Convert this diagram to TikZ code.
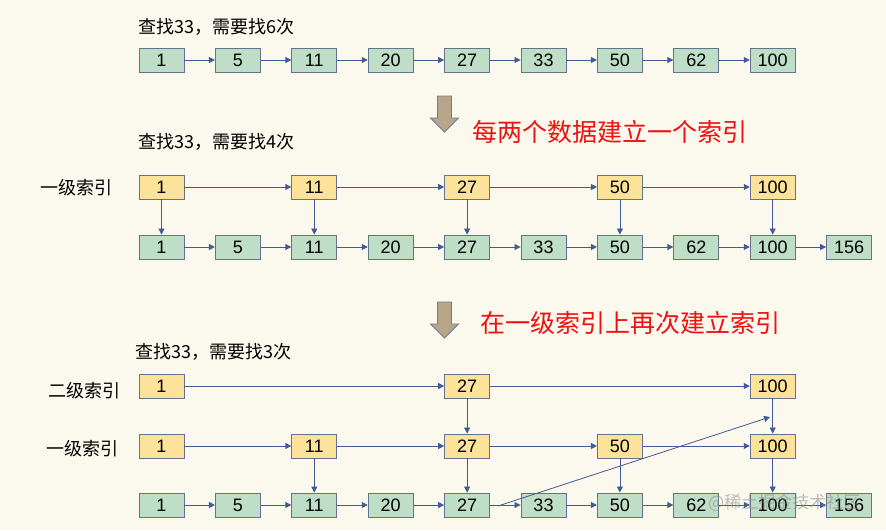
\documentclass[tikz,border=0pt]{standalone}
\usepackage{fontspec}
\setmainfont{Liberation Sans}
\newfontfamily\cjk{Noto Sans CJK SC}
\usetikzlibrary{arrows.meta}
\definecolor{bg}{RGB}{251,248,237}
\definecolor{gfill}{RGB}{190,222,200}
\definecolor{yfill}{RGB}{253,227,154}
\definecolor{boxline}{RGB}{100,114,142}
\definecolor{arrowc}{RGB}{66,90,150}
\definecolor{blkfill}{RGB}{184,166,138}
\definecolor{blkline}{RGB}{110,124,152}
\definecolor{redtxt}{RGB}{240,16,16}
\begin{document}
\begin{tikzpicture}[x=1pt,y=-1pt,
  box/.style={draw=boxline, line width=0.9pt, minimum width=45pt, minimum height=24pt, inner sep=0pt, font=\fontsize{18}{18}\selectfont},
  gbox/.style={box, fill=gfill},
  ybox/.style={box, fill=yfill},
  link/.style={draw=arrowc, line width=0.8pt, -{Triangle[length=6pt,width=6pt]}},
  title/.style={anchor=west, inner sep=0pt, font=\cjk\fontsize{18}{18}\selectfont},
  lvl/.style={anchor=west, inner sep=0pt, font=\cjk\fontsize{18}{18}\selectfont},
  red/.style={anchor=west, inner sep=0pt, text=redtxt, font=\cjk\fontsize{25}{25}\selectfont},
  blk/.style={fill=blkfill, draw=blkline, line width=0.9pt, line join=miter}
]
\fill[bg] (0,0) rectangle (886,530);
\useasboundingbox (0,0) rectangle (886,530);

% ---------- top section ----------
\node[title] (ttl1) at (138,27) {查找33，需要找6次};
\foreach \v [count=\i from 0] in {1,5,11,20,27,33,50,62,100}
  \node[gbox] (t\i) at ({161.5+76.4*\i},60) {\v};
\foreach \i/\j in {0/1,1/2,2/3,3/4,4/5,5/6,6/7,7/8}
  \draw[link] (t\i) -- (t\j);

% block arrow 1
\draw[blk] (437.5,96) -- (451.5,96) -- (451.5,118) -- (458.5,118) -- (444.5,132) -- (430.5,118) -- (437.5,118) -- cycle;
\node[red] (r1) at (472,132) {每两个数据建立一个索引};

% ---------- middle section ----------
\node[title] (ttl2) at (138,142) {查找33，需要找4次};
\node[lvl] (l1) at (40,188) {一级索引};
\foreach \v [count=\i from 0] in {1,5,11,20,27,33,50,62,100,156}
  \node[gbox] (m\i) at ({161.5+76.4*\i},247) {\v};
\foreach \i/\j in {0/1,1/2,2/3,3/4,4/5,5/6,6/7,7/8,8/9}
  \draw[link] (m\i) -- (m\j);
\foreach \v/\i in {1/0,11/2,27/4,50/6,100/8}
  \node[ybox] (my\i) at ({161.5+76.4*\i},187) {\v};
\foreach \i/\j in {0/2,2/4,4/6,6/8}
  \draw[link] (my\i) -- (my\j);
\foreach \i in {0,2,4,6,8}
  \draw[link] (my\i) -- (m\i);

% block arrow 2
\draw[blk] (437.5,302) -- (451.5,302) -- (451.5,324) -- (458.5,324) -- (444.5,338) -- (430.5,324) -- (437.5,324) -- cycle;
\node[red] (r2) at (480,323) {在一级索引上再次建立索引};

% ---------- bottom section ----------
\node[title] (ttl3) at (135,352) {查找33，需要找3次};
\node[lvl] (l2a) at (48,391) {二级索引};
\node[lvl] (l2b) at (46,449) {一级索引};
\foreach \v [count=\i from 0] in {1,5,11,20,27,33,50,62,100,156}
  \node[gbox] (b\i) at ({161.5+76.4*\i},505) {\v};
\foreach \i/\j in {0/1,1/2,2/3,3/4,4/5,5/6,6/7,7/8,8/9}
  \draw[link] (b\i) -- (b\j);
\foreach \v/\i in {1/0,11/2,27/4,50/6,100/8}
  \node[ybox] (bo\i) at ({161.5+76.4*\i},446) {\v};
\foreach \i/\j in {0/2,2/4,4/6,6/8}
  \draw[link] (bo\i) -- (bo\j);
\foreach \i in {2,4,6,8}
  \draw[link] (bo\i) -- (b\i);
\foreach \v/\i in {1/0,27/4,100/8}
  \node[ybox] (bt\i) at ({161.5+76.4*\i},386) {\v};
\draw[link] (bt0) -- (bt4);
\draw[link] (bt4) -- (bt8);
\draw[link] (bt4) -- (bo4);
\draw[link] (bt8) -- (bo8);

% diagonal jump
\coordinate (dstart) at (498,506);
\coordinate (dend) at (770,417);
\draw[link] (dstart) -- (dend);

% watermark
\node[anchor=west, inner sep=0pt, text=gray, opacity=0.5, font=\cjk\fontsize{17}{17}\selectfont] (wm) at (708,503) {@稀土掘金技术社区};
\end{tikzpicture}
\end{document}
